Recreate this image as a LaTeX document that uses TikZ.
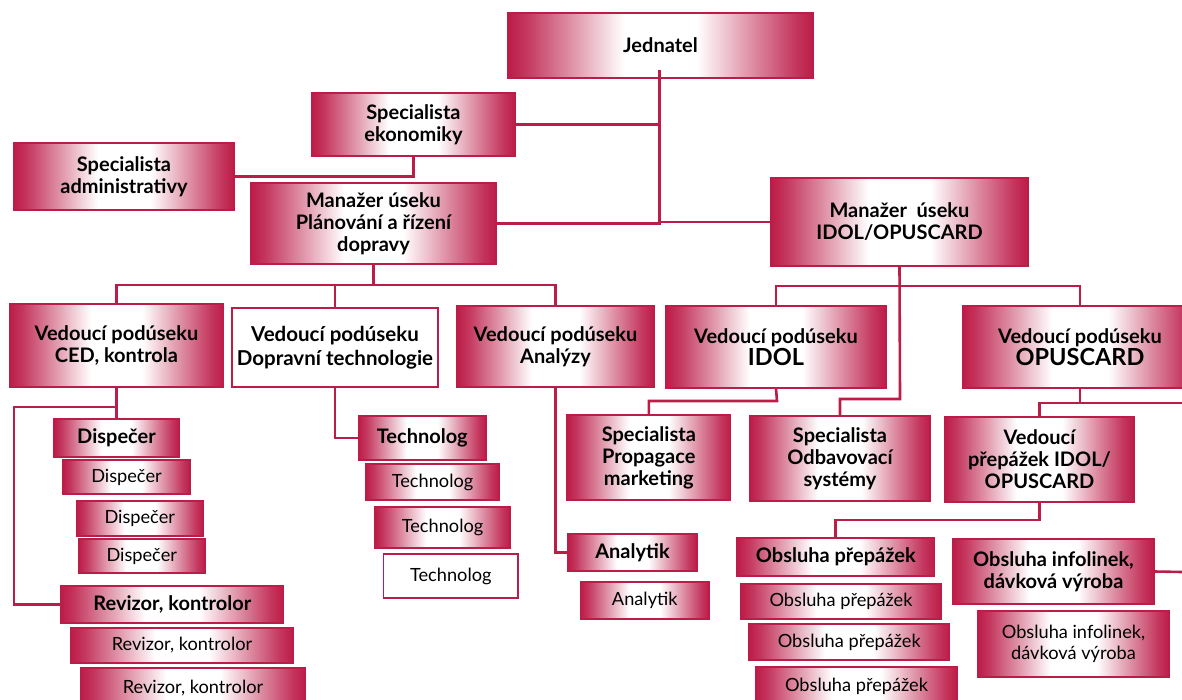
\documentclass[tikz,border=0pt]{standalone}
\usepackage{fontspec}
\setmainfont{Lato}
\definecolor{crim}{RGB}{188,28,72}
\pgfdeclarehorizontalshading{redwhite}{100bp}{color(0bp)=(crim); color(25bp)=(crim); color(28bp)=(crim!88); color(35bp)=(crim!50); color(44bp)=(white); color(56bp)=(white); color(65bp)=(crim!50); color(72bp)=(crim!88); color(75bp)=(crim); color(100bp)=(crim)}
\newcommand{\mybf}{\fontsize{20}{22}\selectfont\bfseries}
\newcommand{\myrg}{\fontsize{18.2}{21.5}\selectfont}
\tikzset{
  box/.style={draw=crim, line width=1.3pt, shading=redwhite, align=center, inner sep=0pt, text=black},
  wbox/.style={draw=crim, line width=1.3pt, fill=white, align=center, inner sep=0pt, text=black},
  conn/.style={draw=crim, line width=2.6pt, line cap=rect}
}
\begin{document}
\begin{tikzpicture}[x=1pt,y=-1pt]
\useasboundingbox (0,0) rectangle (1182,700);
\clip (0,0) rectangle (1182,700);
% boxes
\node[box, minimum width=305pt, minimum height=65pt, font=\mybf] (jed) at (660.5,45.5) {Jednatel};
\node[box, minimum width=203pt, minimum height=63pt, font=\mybf] (eko) at (413.5,124.5) {Specialista\\ekonomiky};
\node[box, minimum width=220pt, minimum height=67pt, font=\mybf] (adm) at (124,176.5) {Specialista\\administrativy};
\node[box, minimum width=245pt, minimum height=81pt, font=\mybf] (mpl) at (373.5,223.5) {Manažer úseku\\Plánování a řízení\\dopravy};
\node[box, minimum width=257pt, minimum height=88pt, font=\mybf] (mid) at (899.5,222) {Manažer~ úseku\\IDOL/OPUSCARD};
\node[box, minimum width=214pt, minimum height=83pt, font=\mybf] (ced) at (116.5,345.5) {Vedoucí podúseku\\CED, kontrola};
\node[wbox, minimum width=206pt, minimum height=79pt, font=\fontsize{20.5}{23.5}\selectfont\bfseries] (dop) at (335,347.5) {Vedoucí podúseku\\Dopravní technologie};
\node[box, minimum width=197pt, minimum height=81pt, font=\mybf] (ana) at (555.5,346.5) {Vedoucí podúseku\\Analýzy};
\node[box, minimum width=220pt, minimum height=82pt, font=\mybf] (idol) at (776,347) {Vedoucí podúseku\\{\fontsize{23.5}{24}\selectfont IDOL}};
\node[box, minimum width=234pt, minimum height=82pt, font=\mybf] (opus) at (1080,347) {Vedoucí podúseku\\{\fontsize{23.5}{24}\selectfont OPUSCARD}};
% CED column
\node[box, minimum width=125pt, minimum height=38pt, font=\mybf] (d1) at (116.5,438) {Dispečer};
\node[box, minimum width=127pt, minimum height=34pt, font=\myrg] (d2) at (126.5,477) {Dispečer};
\node[box, minimum width=126.5pt, minimum height=35pt, font=\myrg] (d3) at (139.75,518.5) {Dispečer};
\node[box, minimum width=126.5pt, minimum height=34pt, font=\myrg] (d4) at (141.75,556) {Dispečer};
\node[box, minimum width=222.6pt, minimum height=37pt, font=\mybf] (r1) at (172.3,604.5) {Revizor, kontrolor};
\node[box, minimum width=222pt, minimum height=35pt, font=\myrg] (r2) at (182,645.5) {Revizor, kontrolor};
\node[box, minimum width=224pt, minimum height=40pt, font=\myrg] (r3) at (193,688) {Revizor, kontrolor};
% Technolog column
\node[box, minimum width=127.4pt, minimum height=44pt, font=\mybf] (t1) at (422.3,438) {Technolog};
\node[box, minimum width=133pt, minimum height=36pt, font=\myrg] (t2) at (432.5,482) {Technolog};
\node[box, minimum width=135pt, minimum height=41pt, font=\myrg] (t3) at (442.5,527.5) {Technolog};
\node[wbox, minimum width=134.5pt, minimum height=44pt, font=\myrg] (t4) at (450.75,576) {Technolog};
% Analytik
\node[box, minimum width=129pt, minimum height=37pt, font=\mybf] (a1) at (632.5,552.5) {Analytik};
\node[box, minimum width=128.4pt, minimum height=37pt, font=\myrg] (a2) at (644.8,600.5) {Analytik};
% IDOL specialists
\node[box, minimum width=163.6pt, minimum height=85pt, font=\mybf] (prop) at (648.8,457.5) {Specialista\\Propagace\\marketing};
\node[box, minimum width=180pt, minimum height=85pt, font=\mybf] (odb) at (840,458.5) {Specialista\\Odbavovací\\systémy};
\node[box, minimum width=189pt, minimum height=85pt, font=\mybf] (vp) at (1039.5,459.5) {Vedoucí\\přepážek IDOL/\\OPUSCARD};
% Obsluha
\node[box, minimum width=197.5pt, minimum height=38pt, font=\mybf] (o1) at (835.75,557) {Obsluha přepážek};
\node[box, minimum width=200pt, minimum height=35pt, font=\myrg] (o2) at (841,601.5) {Obsluha přepážek};
\node[box, minimum width=200.5pt, minimum height=36pt, font=\myrg] (o3) at (849.25,642) {Obsluha přepážek};
\node[box, minimum width=201pt, minimum height=38pt, font=\myrg] (o4) at (856.5,686) {Obsluha přepážek};
\node[box, minimum width=201pt, minimum height=65pt, font=\mybf] (i1) at (1053.5,571.5) {Obsluha infolinek,\\dávková výroba};
\node[box, minimum width=191pt, minimum height=66pt, font=\myrg] (i2) at (1073.5,644) {Obsluha infolinek,\\dávková výroba};
% coordinates
\coordinate (j0) at (659.5,71);
\coordinate (mb) at (373.5,285);
\coordinate (mh) at (900,286);
\coordinate (mo) at (900,399);
\coordinate (ip) at (777,401);
\coordinate (ob) at (1080,403);
\coordinate (oe) at (1182,403);
\coordinate (vo) at (1039.5,520);
\coordinate (ie) at (1182,572);
\coordinate (cb) at (116.5,407);
\coordinate (cl) at (14,407);
% connectors
\draw[conn] (j0) |- (mpl.east);
\draw[conn] (j0 |- eko.east) -- (eko.east);
\draw[conn] (j0 |- mid.west) -- (mid.west);
\draw[conn] (eko.south) |- (adm.east);
\draw[conn] (mpl.south) -- (mb);
\draw[conn] (ced.north) |- (mb) -| (ana.north);
\draw[conn] (dop.north) -- (dop.north |- mb);
\draw[conn] (idol.north) |- (mh) -| (opus.north);
\draw[conn] (mid.south) -- (mo) -| (odb.north);
\draw[conn] (idol.south) -- (ip) -| (prop.north);
\draw[conn] (opus.south) -- (ob);
\draw[conn] (vp.north) |- (oe);
\draw[conn] (vp.south) -- (vo) -| (o1.north);
\draw[conn] (i1.east) -- (ie);
\draw[conn] (ced.south) -- (d1.north);
\draw[conn] (cb) -- (cl) |- (r1.west);
\draw[conn] (dop.south) |- (t1.west);
\draw[conn] (ana.south) |- (a1.west);
\end{tikzpicture}
\end{document}
